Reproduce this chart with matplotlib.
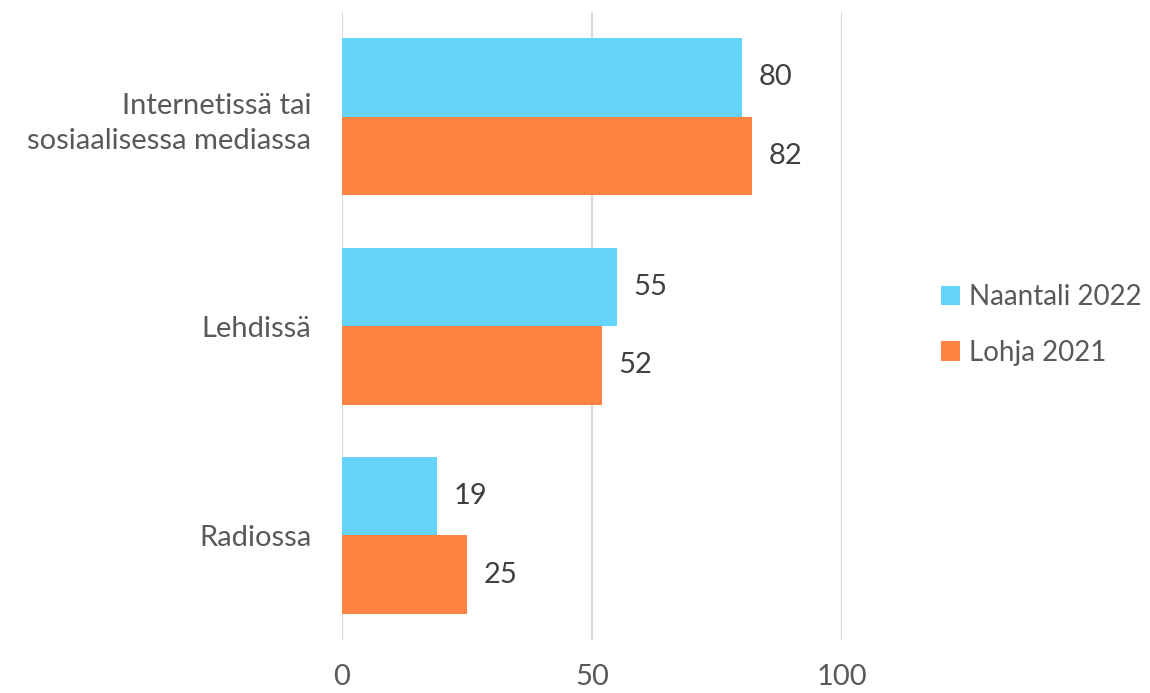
import matplotlib.pyplot as plt
import numpy as np

categories = ['Internetissä tai\nsosiaalisessa mediassa', 'Lehdissä', 'Radiossa']
naantali_2022 = [80, 55, 19]
lohja_2021 = [82, 52, 25]
series_names = ['Naantali 2022', 'Lohja 2021']
colors = ['#66D3FA', '#FF8442']

plt.rcParams['font.family'] = ['Lato', 'DejaVu Sans']

fig = plt.figure(figsize=(11.5, 6.93), dpi=100)
ax = fig.add_axes([342/1150, 1-640/693, 500/1150, 628/693])

y = np.arange(len(categories))
h = 0.375
b1 = ax.barh(y - h/2, naantali_2022, height=h, color=colors[0], label=series_names[0], zorder=3)
b2 = ax.barh(y + h/2, lohja_2021, height=h, color=colors[1], label=series_names[1], zorder=3)
ax.bar_label(b1, padding=12, fontsize=21, color='#404040')
ax.bar_label(b2, padding=12, fontsize=21, color='#404040')

ax.set_ylim(2.5, -0.5)
ax.set_xlim(0, 100)
ax.set_xticks([0, 50, 100])
ax.set_yticks(y)
ax.set_yticklabels(categories, fontsize=21, color='#595959', linespacing=1.4)
ax.tick_params(axis='x', labelsize=21, labelcolor='#595959', length=0, pad=17)
ax.tick_params(axis='y', length=0, pad=22)
ax.grid(axis='x', color='#D9D9D9', linewidth=1.5, zorder=0)
for s in ax.spines.values():
    s.set_visible(False)

leg = fig.legend(loc='center left', bbox_to_anchor=(916/1150, 1-325/693), frameon=False,
                 fontsize=20, labelcolor='#595959', handlelength=0.7, handleheight=0.7,
                 handletextpad=0.3, labelspacing=1.05)

fig.savefig('out.png')
